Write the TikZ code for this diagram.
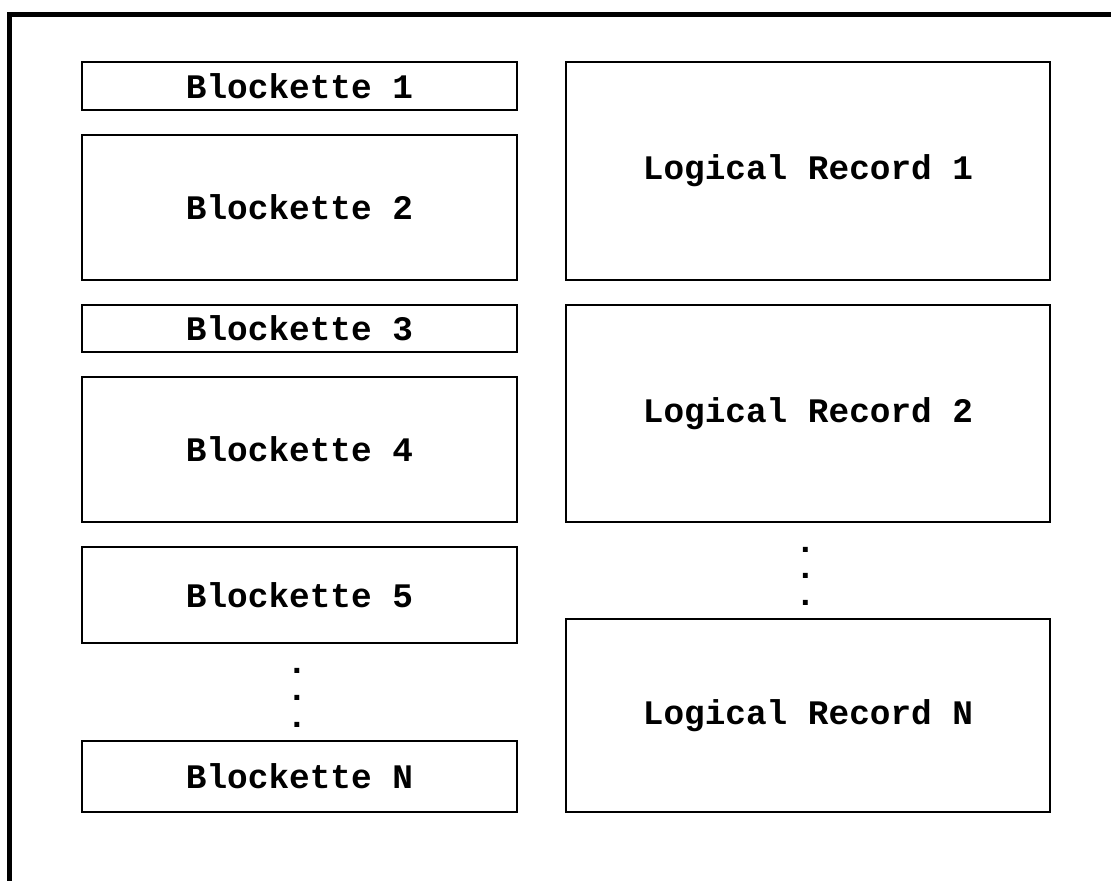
\documentclass[tikz,border=0pt]{standalone}
\usepackage{fontspec}
\setmonofont{Liberation Mono}
\begin{document}
\begin{tikzpicture}[x=0.5pt,y=-0.5pt,
    lbl/.style={font=\ttfamily\bfseries\fontsize{17.2}{20}\selectfont},
    blk/.style={draw,line width=1pt,lbl,minimum width=217.5pt,inner sep=0pt},
    rec/.style={draw,line width=1pt,lbl,minimum width=242pt,inner sep=0pt},
    dot/.style={lbl,inner sep=0pt,text height=3pt,text depth=0pt}]
\useasboundingbox (0,0) rectangle (1111,880);
\clip (0,0) rectangle (1111,880);
\draw[line width=2.5pt] (9.5,14) rectangle (1130,900);
% blockettes
\node[blk,minimum height=24pt] (b1) at (299.5,86) {Blockette 1};
\node[blk,minimum height=72.5pt] (b2) at (299.5,207.5) {Blockette 2};
\node[blk,minimum height=23.5pt] (b3) at (299.5,328.5) {Blockette 3};
\node[blk,minimum height=72.5pt] (b4) at (299.5,449.5) {Blockette 4};
\node[blk,minimum height=48pt] (b5) at (299.5,595) {Blockette 5};
\node[dot] (bd1) at (297,670.5) {.};
\node[dot] (bd2) at (297,697) {.};
\node[dot] (bd3) at (297,724) {.};
\node[blk,minimum height=35.5pt] (bn) at (299.5,776.5) {Blockette N};
% logical records
\node[rec,minimum height=109pt] (r1) at (808,171) {Logical Record 1};
\node[rec,minimum height=108.5pt] (r2) at (808,413.5) {Logical Record 2};
\node[dot] (rd1) at (805.5,549) {.};
\node[dot] (rd2) at (805.5,575.7) {.};
\node[dot] (rd3) at (805.5,602.5) {.};
\node[rec,minimum height=96.5pt] (rn) at (808,715.5) {Logical Record N};
\end{tikzpicture}
\end{document}
